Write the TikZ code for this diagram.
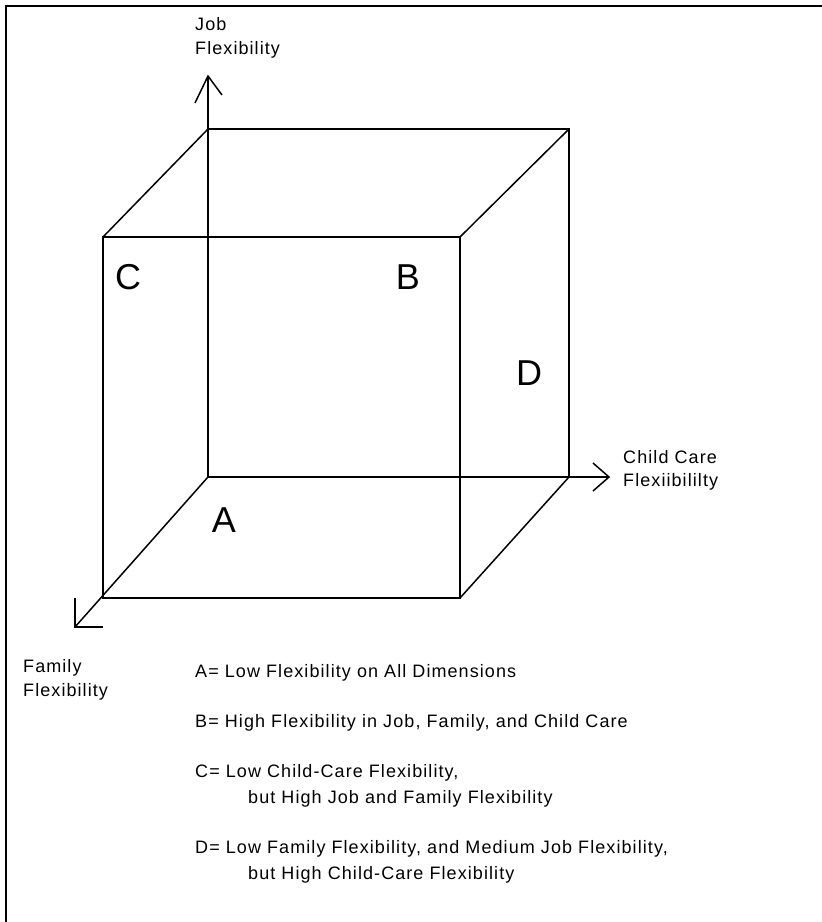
\documentclass[tikz,border=0pt]{standalone}
\usepackage{fontspec}
\setmainfont{Liberation Sans}
\newfontfamily\lblfont[LetterSpace=6]{Liberation Sans}
\begin{document}
\begin{tikzpicture}[x=1pt,y=-1pt,
  edge/.style={line width=1.5pt,black},
  frameline/.style={line width=2.2pt,black},
  lbl/.style={anchor=base west,inner sep=0pt,font=\lblfont\fontsize{18}{24}\selectfont},
  big/.style={anchor=base,inner sep=0pt,font=\fontsize{36}{40}\selectfont}]
\useasboundingbox (0,0) rectangle (822,922);
% frame (left and top only visible)
\draw[frameline] (6,922) -- (6,6) -- (822,6);
% cube corners
\coordinate (O) at (208,477);
\coordinate (bTL) at (208,129);
\coordinate (bTR) at (569,129);
\coordinate (bBR) at (569,477);
\coordinate (fTL) at (103,237);
\coordinate (fTR) at (460,237);
\coordinate (fBR) at (460,598);
\coordinate (fBL) at (103,598);
% axis tips and arrow wings
\coordinate (yTip) at (208,76);
\coordinate (yW1) at (195,103);
\coordinate (yW2) at (222,95);
\coordinate (xTip) at (609,477);
\coordinate (xW1) at (593,463);
\coordinate (xW2) at (593,491);
\coordinate (zTip) at (75,627);
\coordinate (zW1) at (75,598);
\coordinate (zW2) at (103,627);
% back square
\draw[edge] (bTL) -- (bTR) -- (bBR);
% front square
\draw[edge] (fTL) -- (fTR) -- (fBR) -- (fBL) -- cycle;
% connecting edges
\draw[edge] (bTL) -- (fTL);
\draw[edge] (bTR) -- (fTR);
\draw[edge] (bBR) -- (fBR);
% axes
\draw[edge] (O) -- (yTip);
\draw[edge] (yW1) -- (yTip) -- (yW2);
\draw[edge] (O) -- (xTip);
\draw[edge] (xW1) -- (xTip) -- (xW2);
\draw[edge] (O) -- (zTip);
\draw[edge] (zW1) -- (zTip) -- (zW2);
% axis labels
\node[lbl] (job1) at (195,30) {Job};
\node[lbl] (job2) at (195,54) {Flexibility};
\node[lbl] (cc1) at (623,463) {Child Care};
\node[lbl] (cc2) at (623,486) {Flexiibililty};
\node[lbl] (fam1) at (23,672) {Family};
\node[lbl] (fam2) at (23,696) {Flexibility};
% region letters
\node[big] (C) at (128,289) {C};
\node[big] (B) at (408,289) {B};
\node[big] (D) at (529,385) {D};
\node[big] (A) at (224,532) {A};
% legend
\node[lbl] (la) at (195,677) {A= Low Flexibility on All Dimensions};
\node[lbl] (lb) at (195,727) {B= High Flexibility in Job, Family, and Child Care};
\node[lbl] (lc) at (195,777) {C= Low Child-Care Flexibility,};
\node[lbl] (lc2) at (248,803) {but High Job and Family Flexibility};
\node[lbl] (ld) at (195,853) {D= Low Family Flexibility, and Medium Job Flexibility,};
\node[lbl] (ld2) at (248,879) {but High Child-Care Flexibility};
\end{tikzpicture}
\end{document}
